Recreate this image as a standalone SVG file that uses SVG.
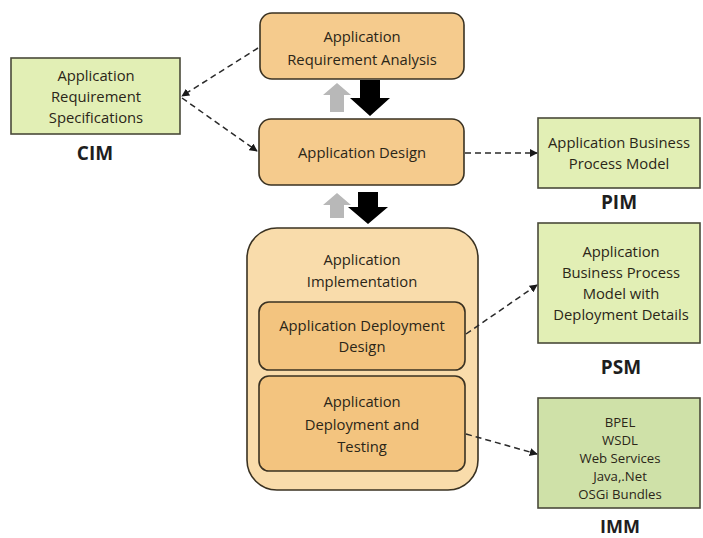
<svg xmlns="http://www.w3.org/2000/svg" width="703" height="538" viewBox="0 0 703 538">
  <defs>
    <marker id="head" viewBox="0 0 10 10" refX="9" refY="5" markerWidth="8" markerHeight="8" markerUnits="userSpaceOnUse" orient="auto">
      <path d="M0,0 L10,5 L0,10 Z" fill="#1a1a1a"/>
    </marker>
    <style>
      .t { font-family: "Open Sans", "Liberation Sans", sans-serif; font-size: 14.8px; fill: #2b2618; text-anchor: middle; }
      .s { font-size: 13.2px; }
      .lbl { font-family: "Open Sans", "Liberation Sans", sans-serif; font-size: 19px; font-weight: bold; fill: #1e1e1e; text-anchor: middle; }
      .step { fill: #f5cb8d; stroke: #3a3222; stroke-width: 1.6; }
      .outer { fill: #f9dcab; stroke: #3a3222; stroke-width: 1.6; }
      .inner { fill: #f3c47f; stroke: #3a3222; stroke-width: 1.6; }
      .model { fill: #e2efb5; stroke: #4a4a3a; stroke-width: 1.6; }
      .impl { fill: #cfe1a8; stroke: #4a4a3a; stroke-width: 1.6; }
      .dash { fill: none; stroke: #2a2a2a; stroke-width: 1.5; stroke-dasharray: 6 4; marker-end: url(#head); }
      .up { fill: #b8b8b8; }
      .down { fill: #000000; }
    </style>
  </defs>

  <rect width="703" height="538" fill="#ffffff"/>

  <!-- process steps -->
  <g id="req-analysis">
    <rect class="step" x="260" y="13" width="204" height="66" rx="12"/>
    <text class="t" x="362" y="42">Application</text>
    <text class="t" x="362" y="65">Requirement Analysis</text>
  </g>

  <g id="app-design">
    <rect class="step" x="259" y="119" width="205" height="66" rx="12"/>
    <text class="t" x="362" y="158">Application Design</text>
  </g>

  <g id="app-implementation">
    <rect class="outer" x="247" y="228" width="231" height="262" rx="30"/>
    <text class="t" x="362" y="265">Application</text>
    <text class="t" x="362" y="287">Implementation</text>
  </g>

  <g id="deploy-design">
    <rect class="inner" x="259" y="302" width="206" height="68" rx="10"/>
    <text class="t" x="362" y="331">Application Deployment</text>
    <text class="t" x="362" y="352">Design</text>
  </g>

  <g id="deploy-testing">
    <rect class="inner" x="259" y="376" width="206" height="95" rx="10"/>
    <text class="t" x="362" y="407">Application</text>
    <text class="t" x="362" y="430">Deployment and</text>
    <text class="t" x="362" y="452">Testing</text>
  </g>

  <!-- models -->
  <g id="cim">
    <rect class="model" x="11" y="58" width="169" height="76"/>
    <text class="t" x="96" y="81">Application</text>
    <text class="t" x="96" y="102">Requirement</text>
    <text class="t" x="96" y="123">Specifications</text>
    <text class="lbl" x="95" y="160">CIM</text>
  </g>

  <g id="pim">
    <rect class="model" x="538" y="118" width="162" height="70"/>
    <text class="t" x="619" y="148">Application Business</text>
    <text class="t" x="619" y="169">Process Model</text>
    <text class="lbl" x="619" y="209">PIM</text>
  </g>

  <g id="psm">
    <rect class="model" x="538" y="223" width="162" height="120"/>
    <text class="t" x="621" y="257">Application</text>
    <text class="t" x="621" y="278">Business Process</text>
    <text class="t" x="621" y="299">Model with</text>
    <text class="t" x="621" y="320">Deployment Details</text>
    <text class="lbl" x="621" y="374">PSM</text>
  </g>

  <g id="imm">
    <rect class="impl" x="538" y="398" width="162" height="110"/>
    <text class="t s" x="620" y="427">BPEL</text>
    <text class="t s" x="620" y="445">WSDL</text>
    <text class="t s" x="620" y="463">Web Services</text>
    <text class="t s" x="620" y="481">Java,.Net</text>
    <text class="t s" x="620" y="499">OSGi Bundles</text>
    <text class="lbl" x="620" y="533" style="font-size:18px">IMM</text>
  </g>

  <!-- connectors -->
  <g id="connectors">
    <path class="dash" d="M258,48 L182,96"/>
    <path class="dash" d="M182,98 L257,151"/>
    <path class="dash" d="M465,153 L537,153"/>
    <path class="dash" d="M466,334 L537,285"/>
    <path class="dash" d="M466,434 L537,454"/>

    <!-- iteration arrows between steps -->
    <path class="up" d="M330,112 L330,95 L323,95 L337,83 L351,95 L344,95 L344,112 Z"/>
    <path class="down" d="M360,80 L380,80 L380,98 L390,98 L370,116 L350,98 L360,98 Z"/>
    <path class="up" d="M330,218 L330,205 L323,205 L337,193 L351,205 L344,205 L344,218 Z"/>
    <path class="down" d="M358,192 L378,192 L378,207 L388,207 L368,224 L348,207 L358,207 Z"/>
  </g>
</svg>
